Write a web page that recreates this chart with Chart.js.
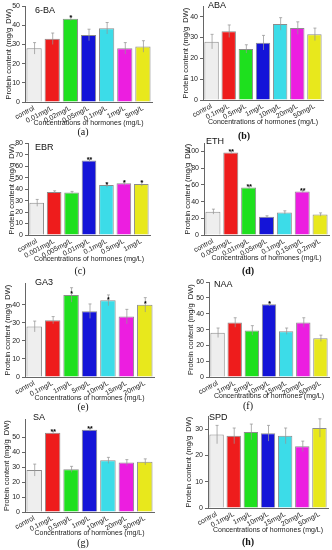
<!DOCTYPE html>
<html>
<head>
<meta charset="utf-8">
<script src="https://cdn.jsdelivr.net/npm/chart.js@4.4.1/dist/chart.umd.min.js"></script>
<style>
  body { margin: 0; background: #fff; width: 332px; height: 550px; position: relative; overflow: hidden; }
  canvas { position: absolute; }
  .cap { position: absolute; font-family: "Liberation Serif", serif; font-size: 10px; color: #111; transform: translate(-50%, -50%); }
</style>
</head>
<body>
<script>
// bar fill colours, one per concentration (control first)
const barColors = ['#eeeeee', '#ee1c1c', '#1ee01e', '#1414d8', '#3cdce8', '#ec1ee0', '#e8e81c'];

// (a) 6-BA
const labelsBA = ['control', '0.01mg/L', '0.02mg/L', '0.05mg/L', '0.1mg/L', '1mg/L', '5mg/L'];
const valuesBA = [28, 33, 43.5, 35, 38.5, 28, 29];
const errorsBA = [3, 3, 1, 3, 3, 3, 3];
const starsBA = ['', '', '*', '', '', '', ''];

// (b) ABA
const labelsABA = ['control', '0.1mg/L', '0.5mg/L', '1mg/L', '10mg/L', '20mg/L', '50mg/L'];
const valuesABA = [28, 33, 24.5, 27.5, 36.5, 34.5, 31.5];
const errorsABA = [3.5, 3, 2, 3.5, 3, 3, 3];
const starsABA = ['', '', '', '', '', '', ''];

// (c) EBR
const labelsEBR = ['control', '0.001mg/L', '0.005mg/L', '0.01mg/L', '0.1mg/L', '0.5mg/L', '1mg/L'];
const valuesEBR = [28, 37.5, 37, 65, 43.5, 45, 44.5];
const errorsEBR = [3, 1, 1, 1, 2, 2, 2];
const starsEBR = ['', '', '', '**', '*', '*', '*'];

// (d) ETH
const labelsETH = ['control', '0.005mg/L', '0.01mg/L', '0.05mg/L', '0.1mg/L', '0.15mg/L', '0.2mg/L'];
const valuesETH = [28, 99, 57, 22, 27, 52, 24.5];
const errorsETH = [3, 2, 2, 1, 2, 1, 2];
const starsETH = ['', '**', '**', '', '', '**', ''];

// (e) GA3
const labelsGA = ['control', '0.1mg/L', '1mg/L', '5mg/L', '10mg/L', '15mg/L', '20mg/L'];
const valuesGA = [28, 31.5, 45.5, 36.5, 42.5, 33.5, 40];
const errorsGA = [3, 2, 4, 4, 3, 4, 4];
const starsGA = ['', '', '*', '', '*', '', '*'];

// (f) NAA
const labelsNAA = ['control', '1mg/L', '5mg/L', '10mg/L', '15mg/L', '20mg/L', '50mg/L'];
const valuesNAA = [28, 34.5, 29.5, 46, 29, 34.5, 24.5];
const errorsNAA = [3, 3, 3, 1, 2, 3, 2];
const starsNAA = ['', '', '', '*', '', '', ''];

// (g) SA
const labelsSA = ['control', '0.1mg/L', '0.5mg/L', '1mg/L', '10mg/L', '20mg/L', '50mg/L'];
const valuesSA = [28, 53, 28.5, 55, 34.5, 33, 33.5];
const errorsSA = [4, 1, 2, 1, 2, 2, 2];
const starsSA = ['', '**', '', '**', '', '', ''];

// (h) SPD
const labelsSPD = ['control', '0.1mg/L', '1mg/L', '10mg/L', '15mg/L', '20mg/L', '50mg/L'];
const valuesSPD = [28, 27.5, 29, 28.5, 27.5, 23.5, 30.5];
const errorsSPD = [3.5, 3, 3, 3, 3, 2, 3.5];
const starsSPD = ['', '', '', '', '', '', ''];

// panel layout: canvas box, plot box edges (page px), axis range
const panels = [
  { name: '6-BA', cap: '(a)', bold: false, labels: labelsBA, values: valuesBA, errors: errorsBA, stars: starsBA,
    max: 50, step: 10, box: [4, 0, 160, 127], plot: [25, 5, 152, 102], nameAt: [35, 11], capAt: [83, 131] },
  { name: 'ABA', cap: '(b)', bold: true, labels: labelsABA, values: valuesABA, errors: errorsABA, stars: starsABA,
    max: 45, step: 10, box: [181, 0, 330, 126], plot: [203, 2, 323, 100], nameAt: [208, 6], capAt: [244, 135] },
  { name: 'EBR', cap: '(c)', bold: false, labels: labelsEBR, values: valuesEBR, errors: errorsEBR, stars: starsEBR,
    max: 80, step: 10, box: [7, 137, 158, 263], plot: [28, 141, 150, 235], nameAt: [35, 148], capAt: [80, 270] },
  { name: 'ETH', cap: '(d)', bold: true, labels: labelsETH, values: valuesETH, errors: errorsETH, stars: starsETH,
    max: 110, step: 20, box: [183, 137, 332, 262], plot: [204, 139, 329, 235], nameAt: [206, 142], capAt: [248, 270] },
  { name: 'GA3', cap: '(e)', bold: false, labels: labelsGA, values: valuesGA, errors: errorsGA, stars: starsGA,
    max: 52, step: 10, box: [3, 277, 160, 402], plot: [25, 281, 154, 377], nameAt: [35, 283], capAt: [83, 406] },
  { name: 'NAA', cap: '(f)', bold: false, labels: labelsNAA, values: valuesNAA, errors: errorsNAA, stars: starsNAA,
    max: 60, step: 10, box: [186, 276, 332, 400], plot: [209, 279, 329, 377], nameAt: [214, 285], capAt: [248, 405] },
  { name: 'SA', cap: '(g)', bold: false, labels: labelsSA, values: valuesSA, errors: errorsSA, stars: starsSA,
    max: 62, step: 10, box: [2, 413, 160, 537], plot: [25, 417, 154, 512], nameAt: [33, 418], capAt: [83, 542] },
  { name: 'SPD', cap: '(h)', bold: true, labels: labelsSPD, values: valuesSPD, errors: errorsSPD, stars: starsSPD,
    max: 35, step: 10, box: [184, 410, 332, 534], plot: [208, 414, 328, 508], nameAt: [209, 418], capAt: [248, 541] }
];

Chart.defaults.font.family = '"Liberation Sans", Arial, sans-serif';
Chart.defaults.color = '#222';

// error bars, significance stars and hormone name
function makeOverlay(p) {
  return {
    id: 'overlay',
    afterDatasetsDraw(chart) {
      const ctx = chart.ctx;
      const y = chart.scales.y;
      const meta = chart.getDatasetMeta(0);
      ctx.save();
      meta.data.forEach((bar, i) => {
        const top = y.getPixelForValue(p.values[i] + p.errors[i]);
        const bot = y.getPixelForValue(p.values[i] - p.errors[i]);
        ctx.strokeStyle = 'rgba(150,150,150,0.75)';
        ctx.lineWidth = 1;
        ctx.beginPath();
        ctx.moveTo(bar.x + 0.5, top);
        ctx.lineTo(bar.x + 0.5, bot);
        ctx.moveTo(bar.x - 1, top);
        ctx.lineTo(bar.x + 2, top);
        ctx.stroke();
        if (p.stars[i]) {
          ctx.fillStyle = '#000';
          ctx.font = 'bold 7px "Liberation Sans"';
          ctx.textAlign = 'center';
          ctx.textBaseline = 'alphabetic';
          ctx.fillText(p.stars[i], bar.x + 0.5, bar.y + 1.5);
        }
      });
      ctx.fillStyle = '#111';
      ctx.font = '9px "Liberation Sans"';
      ctx.textAlign = 'left';
      ctx.textBaseline = 'middle';
      ctx.fillText(p.name, p.nameAt[0] - p.box[0], p.nameAt[1] - p.box[1]);
      ctx.restore();
    }
  };
}

panels.forEach(p => {
  const [bx0, by0, bx1, by1] = p.box;
  const [px0, py0, px1, py1] = p.plot;
  const canvas = document.createElement('canvas');
  canvas.width = bx1 - bx0;
  canvas.height = by1 - by0;
  canvas.style.left = bx0 + 'px';
  canvas.style.top = by0 + 'px';
  document.body.appendChild(canvas);

  const cap = document.createElement('div');
  cap.className = 'cap';
  cap.textContent = p.cap;
  cap.style.left = p.capAt[0] + 'px';
  cap.style.top = p.capAt[1] + 'px';
  if (p.bold) cap.style.fontWeight = 'bold';
  document.body.appendChild(cap);

  new Chart(canvas, {
    type: 'bar',
    data: {
      labels: p.labels,
      datasets: [{
        data: p.values,
        backgroundColor: barColors,
        borderColor: '#8c8c8c',
        borderWidth: 1,
        barPercentage: 0.84,
        categoryPercentage: 1
      }]
    },
    options: {
      responsive: false,
      animation: false,
      layout: { padding: { top: py0 - by0, right: bx1 - px1, left: 0, bottom: 0 } },
      plugins: { legend: { display: false }, tooltip: { enabled: false } },
      scales: {
        x: {
          grid: { display: false, drawTicks: false },
          border: { display: true, color: '#666', width: 1 },
          ticks: { autoSkip: false, minRotation: 28, maxRotation: 28, padding: 2, font: { size: 7 }, color: '#222' },
          title: { display: true, text: 'Concentrations of hormones (mg/L)', font: { size: 7 }, color: '#222', padding: 0 },
          afterFit: s => { s.height = by1 - py1; }
        },
        y: {
          min: 0,
          max: p.max,
          grid: { display: true, drawOnChartArea: false, drawTicks: true, tickLength: 3, color: '#666' },
          border: { display: true, color: '#666', width: 1 },
          ticks: { stepSize: p.step, padding: 2, font: { size: 7 }, color: '#222' },
          afterBuildTicks: s => { s.ticks = s.ticks.filter(t => t.value % p.step === 0); },
          title: { display: true, text: 'Protein content (mg/g  DW)', font: { size: 7.5 }, color: '#222', padding: 0 },
          afterFit: s => { s.width = px0 - bx0; }
        }
      }
    },
    plugins: [makeOverlay(p)]
  });
});
</script>
</body>
</html>
